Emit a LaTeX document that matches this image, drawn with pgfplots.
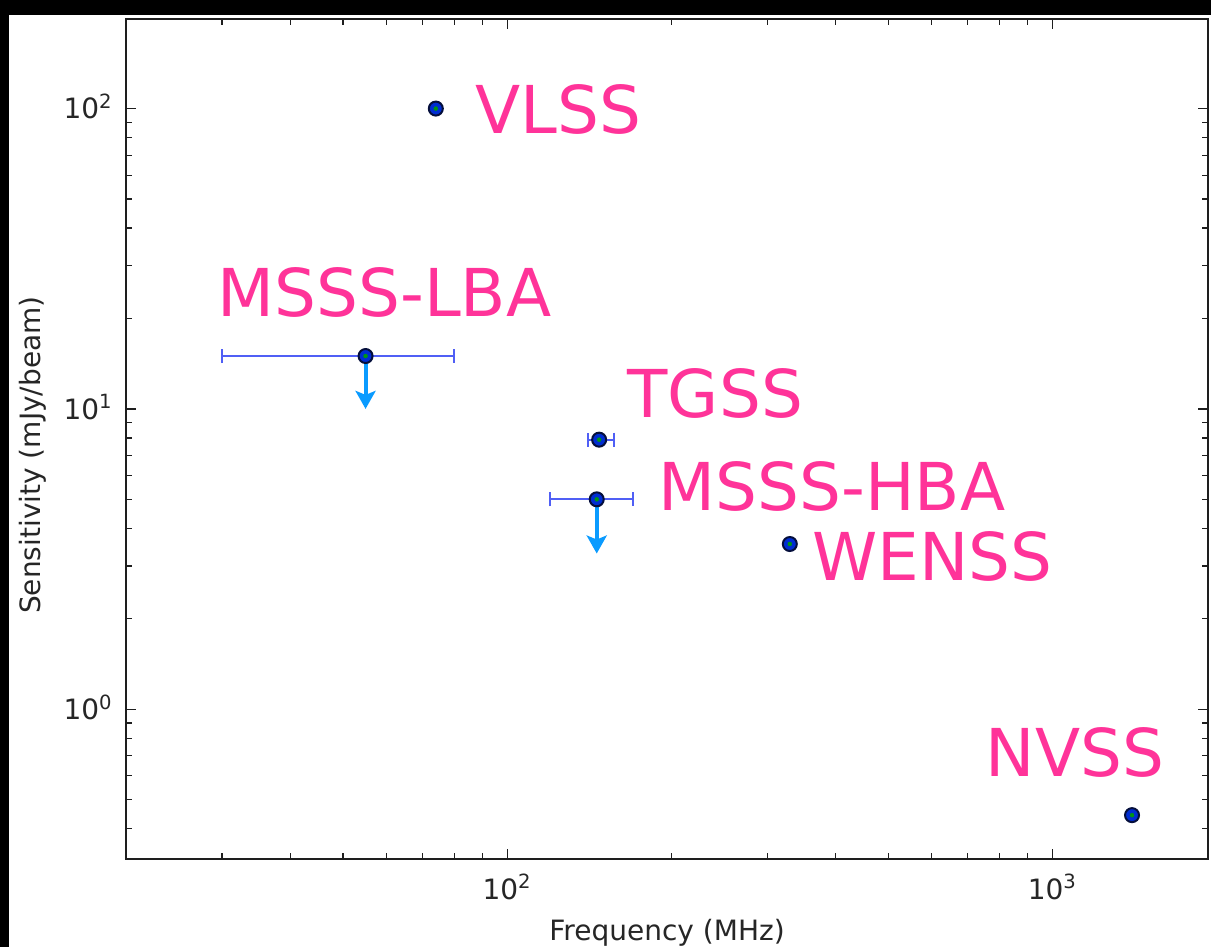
\documentclass[border=0pt]{standalone}
\usepackage{pgfplots}
\pgfplotsset{compat=1.18}
\usepackage{fontspec}
\setmainfont{DejaVu Sans}
\usetikzlibrary{arrows.meta}
\definecolor{pinklab}{RGB}{255,51,153}
\definecolor{errc}{RGB}{80,95,245}
\definecolor{arrc}{RGB}{10,155,255}
\definecolor{mfill}{RGB}{0,45,210}
\definecolor{medge}{RGB}{5,15,60}
\definecolor{mdot}{RGB}{0,150,20}
\definecolor{spine}{RGB}{30,30,30}
\begin{document}
\begin{tikzpicture}
\fill[black] (-63bp,-44.15bp) rectangle (542.5bp,429.35bp);
\fill[white] (-58.5bp,-44.15bp) rectangle (542.5bp,421.85bp);
\begin{axis}[
  at={(0,0)}, anchor=south west,
  scale only axis, width=541bp, height=419.6bp,
  xmode=log, ymode=log,
  xmin=20, xmax=1930, ymin=0.318, ymax=198,
  clip=false,
  axis line style={spine, line width=1bp},
  tick style={spine, line width=0.6bp},
  major tick length=5bp, minor tick length=3bp,
  tick align=inside, xtick pos=both, ytick pos=both,
  xtick={100,1000}, ytick={1,10,100},
  xticklabels={10\textsuperscript{2},10\textsuperscript{3}},
  yticklabels={10\textsuperscript{0},10\textsuperscript{1},10\textsuperscript{2}},
  minor xtick={20,30,40,50,60,70,80,90,200,300,400,500,600,700,800,900},
  minor ytick={0.4,0.5,0.6,0.7,0.8,0.9,2,3,4,5,6,7,8,9,20,30,40,50,60,70,80,90},
  ticklabel style={font=\fontsize{14bp}{16bp}\selectfont, text=black!85},
  xticklabel style={anchor=base, inner sep=0pt, yshift=-20.15bp},
  yticklabel style={anchor=base east, inner sep=0pt, xshift=-6.5bp, yshift=-5.1bp},
  xlabel={Frequency (MHz)},
  ylabel={Sensitivity (mJy/beam)},
  label style={font=\fontsize{14bp}{16bp}\selectfont, text=black!85},
  xlabel style={at={(axis description cs:0.5,-0.0969)}, anchor=base, inner sep=0pt},
  ylabel style={at={(axis description cs:-0.0730,0.481)}, anchor=south, inner sep=0pt},
]
% error bars
\addplot[only marks, mark=none, color=errc,
  error bars/.cd, x dir=both, x explicit, error mark=|,
  error bar style={line width=1bp, errc},
  error mark options={errc, line width=1bp, mark size=3.5bp}]
  table[x=f, y=s, x error plus=ep, x error minus=em] {
f     s    ep    em
55    15   25    25
147.5 7.9  9.5   7
146   5    24    26
};
% survey points
\addplot[only marks, mark=*, mark size=3.5bp,
  mark options={fill=mfill, draw=medge, line width=1bp}]
  table[x=f, y=s] {
f     s
74    100
55    15
147.5 7.9
146   5
330   3.55
1400  0.444
};
\addplot[only marks, mark=*, mark size=1.0bp,
  mark options={fill=mdot, draw=mdot, line width=0.2bp}]
  table[x=f, y=s] {
f     s
74    100
55    15
147.5 7.9
146   5
330   3.55
1400  0.444
};
% upper limits
\addplot[arrc, line width=2bp, -{Stealth[length=9bp, width=10bp, inset=2bp]}] coordinates {(55,15) (55,10.0)};
\addplot[arrc, line width=2bp, -{Stealth[length=9bp, width=10bp, inset=2bp]}] coordinates {(146,5) (146,3.3)};
% labels
\begin{scope}[every node/.style={anchor=base west, inner sep=0pt, text=pinklab, font=\fontsize{33bp}{38bp}\selectfont}]
\node at (axis cs:87.4,82.8) {VLSS};
\node at (axis cs:29.4,20.35) {MSSS-LBA};
\node at (axis cs:166.1,9.385) {TGSS};
\node at (axis cs:189.3,4.60) {MSSS-HBA};
\node at (axis cs:362.8,2.69) {WENSS};
\node at (axis cs:753.9,0.599) {NVSS};
\end{scope}
\end{axis}
\pgfresetboundingbox
\useasboundingbox (-63bp,-44.15bp) rectangle (542.5bp,429.35bp);
\end{tikzpicture}
\end{document}
